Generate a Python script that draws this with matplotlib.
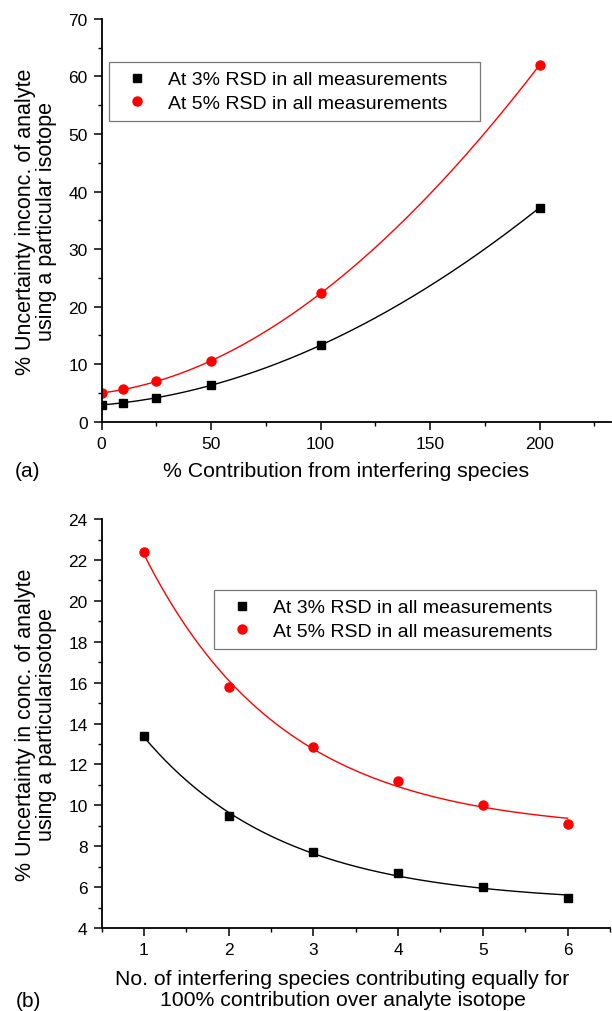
import numpy as np
import matplotlib
matplotlib.use("Agg")
import matplotlib.pyplot as plt
from matplotlib.ticker import MultipleLocator

plt.rcParams['font.family'] = ['Liberation Sans', 'DejaVu Sans']

# panel (a): % contribution from interfering species
contrib = [0, 10, 25, 50, 100, 200]
rsd3_a = [2.9, 3.3, 4.2, 6.3, 13.3, 37.2]
rsd5_a = [5.0, 5.6, 7.0, 10.6, 22.3, 62.0]

# panel (b): number of interfering species
n_species = [1, 2, 3, 4, 5, 6]
rsd3_b = [13.4, 9.47, 7.72, 6.69, 5.99, 5.47]
rsd5_b = [22.37, 15.80, 12.87, 11.20, 10.01, 9.09]

labels = ['At 3% RSD in all measurements', 'At 5% RSD in all measurements']


def exp_fit(x, y):
    # y = y0 + A*exp(-x/t): grid over t, least squares for y0 and A
    x = np.asarray(x, float)
    y = np.asarray(y, float)
    best = None
    for t in np.linspace(0.3, 6, 600):
        M = np.column_stack([np.ones_like(x), np.exp(-x / t)])
        coef = np.linalg.lstsq(M, y, rcond=None)[0]
        err = np.sum((M @ coef - y) ** 2)
        if best is None or err < best[0]:
            best = (err, t, coef)
    _, t, coef = best
    return lambda xx: coef[0] + coef[1] * np.exp(-xx / t)


def style_axes(ax):
    ax.spines['top'].set_visible(False)
    ax.spines['right'].set_visible(False)
    for s in ['left', 'bottom']:
        ax.spines[s].set_linewidth(1.3)
    ax.tick_params(which='major', direction='out', length=6, width=1.1, labelsize=12.5, pad=4)
    ax.tick_params(which='minor', direction='out', length=3, width=1.0)


def add_legend(ax, x0, y_top, w):
    leg = ax.legend(loc='upper left', bbox_to_anchor=(x0, y_top, w, 0), bbox_transform=fig.transFigure,
                    mode='expand', borderaxespad=0, fontsize=14, frameon=True, fancybox=False,
                    borderpad=0.45, labelspacing=0.3, handletextpad=0.56, handlelength=2.0)
    leg.get_frame().set_edgecolor('#555555')
    leg.get_frame().set_linewidth(0.9)
    return leg


fig = plt.figure(figsize=(6.12, 10.12), dpi=100)

# ---- (a)
ax1 = fig.add_axes([0.166, 0.5823, 0.832, 0.398])
xs = np.linspace(0, 200, 300)
p3 = np.polyfit(contrib, rsd3_a, 3)
p5 = np.polyfit(contrib, rsd5_a, 3)
ax1.plot(xs, np.polyval(p3, xs), color='black', lw=1.0)
ax1.plot(xs, np.polyval(p5, xs), color='red', lw=1.0)
ax1.plot(contrib, rsd3_a, 's', color='black', ms=6, label=labels[0])
ax1.plot(contrib, rsd5_a, 'o', color='red', ms=6.5, label=labels[1])
ax1.set_xlim(0, 232.5)
ax1.set_ylim(0, 70)
ax1.xaxis.set_major_locator(MultipleLocator(50))
ax1.xaxis.set_minor_locator(MultipleLocator(25))
ax1.yaxis.set_major_locator(MultipleLocator(10))
ax1.yaxis.set_minor_locator(MultipleLocator(5))
style_axes(ax1)
ax1.set_ylabel('% Uncertainty inconc. of analyte\nusing a particular isotope', fontsize=15.5, linespacing=1.0)
ax1.set_xlabel('% Contribution from interfering species', fontsize=15.3)
ax1.xaxis.set_label_coords(0.481, -0.098)
ax1.yaxis.set_label_coords(-0.088, 0.5)
add_legend(ax1, 109 / 612, 1 - 63 / 1012, 371 / 612)
fig.text(0.0245, 0.5336, '(a)', fontsize=15, va='center')

# ---- (b)
ax2 = fig.add_axes([0.166, 0.082, 0.8306, 0.404])
xs2 = np.linspace(1, 6, 300)
ax2.plot(xs2, exp_fit(n_species, rsd3_b)(xs2), color='black', lw=1.0)
ax2.plot(xs2, exp_fit(n_species, rsd5_b)(xs2), color='red', lw=1.0)
ax2.plot(n_species, rsd3_b, 's', color='black', ms=6, label=labels[0])
ax2.plot(n_species, rsd5_b, 'o', color='red', ms=6.5, label=labels[1])
ax2.set_xlim(0.5, 6.5)
ax2.set_ylim(4, 24)
ax2.xaxis.set_major_locator(MultipleLocator(1))
ax2.xaxis.set_minor_locator(MultipleLocator(0.5))
ax2.yaxis.set_major_locator(MultipleLocator(2))
ax2.yaxis.set_minor_locator(MultipleLocator(1))
style_axes(ax2)
ax2.set_ylabel('% Uncertainty in conc. of analyte\nusing a particularisotope', fontsize=15.5, linespacing=1.0)
ax2.set_xlabel('No. of interfering species contributing equally for\n100% contribution over analyte isotope',
               fontsize=15.3, linespacing=1.12)
ax2.xaxis.set_label_coords(0.474, -0.1)
ax2.yaxis.set_label_coords(-0.088, 0.5)
add_legend(ax2, 214 / 612, 1 - 591 / 1012, 382 / 612)
fig.text(0.026, 0.0099, '(b)', fontsize=15, va='center')

fig.savefig('out.png', dpi=100)
